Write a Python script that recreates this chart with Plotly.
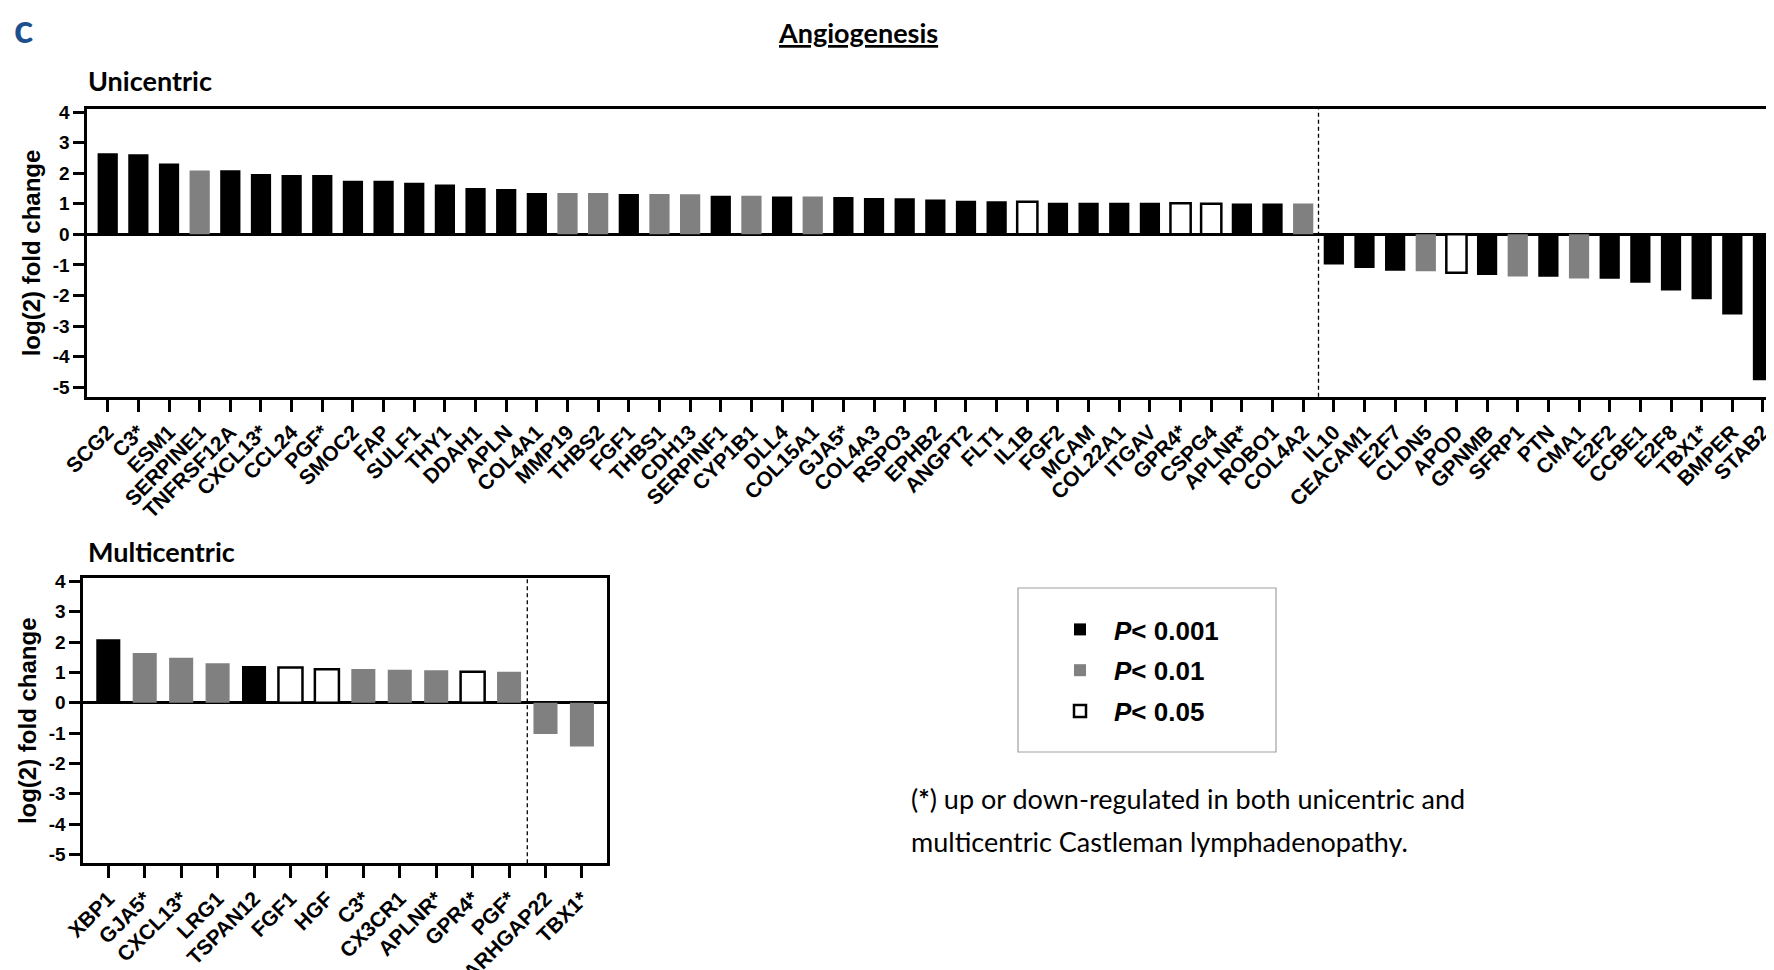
import plotly.graph_objects as go

# page offset of the plot div (browser body margin)
OFF = 8
REF_W, REF_H = 1774, 970
FW, FH = REF_W - OFF, REF_H - OFF

# ---------------- data ----------------
uni_genes = ["SCG2", "C3*", "ESM1", "SERPINE1", "TNFRSF12A", "CXCL13*", "CCL24", "PGF*", "SMOC2", "FAP",
             "SULF1", "THY1", "DDAH1", "APLN", "COL4A1", "MMP19", "THBS2", "FGF1", "THBS1", "CDH13",
             "SERPINF1", "CYP1B1", "DLL4", "COL15A1", "GJA5*", "COL4A3", "RSPO3", "EPHB2", "ANGPT2", "FLT1",
             "IL1B", "FGF2", "MCAM", "COL22A1", "ITGAV", "GPR4*", "CSPG4", "APLNR*", "ROBO1", "COL4A2",
             "IL10", "CEACAM1", "E2F7", "CLDN5", "APOD", "GPNMB", "SFRP1", "PTN", "CMA1", "E2F2",
             "CCBE1", "E2F8", "TBX1*", "BMPER", "STAB2"]
uni_values = [2.65, 2.62, 2.32, 2.09, 2.10, 1.97, 1.94, 1.94, 1.75, 1.75,
              1.69, 1.63, 1.52, 1.48, 1.35, 1.35, 1.35, 1.32, 1.32, 1.31,
              1.26, 1.26, 1.24, 1.24, 1.22, 1.19, 1.18, 1.14, 1.10, 1.08,
              1.07, 1.03, 1.03, 1.03, 1.03, 1.02, 1.00, 1.01, 1.01, 1.01,
              -0.99, -1.10, -1.19, -1.21, -1.26, -1.33, -1.38, -1.39, -1.44, -1.45,
              -1.58, -1.84, -2.12, -2.62, -4.77]
# significance: 1 -> P<0.001, 2 -> P<0.01, 3 -> P<0.05
uni_sig = [1, 1, 1, 2, 1, 1, 1, 1, 1, 1,
           1, 1, 1, 1, 1, 2, 2, 1, 2, 2,
           1, 2, 1, 2, 1, 1, 1, 1, 1, 1,
           3, 1, 1, 1, 1, 3, 3, 1, 1, 2,
           1, 1, 1, 2, 3, 1, 2, 1, 2, 1,
           1, 1, 1, 1, 1]

multi_genes = ["XBP1", "GJA5*", "CXCL13*", "LRG1", "TSPAN12", "FGF1", "HGF", "C3*", "CX3CR1", "APLNR*",
               "GPR4*", "PGF*", "ARHGAP22", "TBX1*"]
multi_values = [2.09, 1.64, 1.48, 1.30, 1.21, 1.16, 1.10, 1.11, 1.09, 1.07,
                1.02, 1.02, -1.03, -1.44]
multi_sig = [1, 2, 2, 2, 1, 3, 3, 2, 2, 2,
             3, 2, 2, 2]

sig_labels = {1: "<i>P</i>< 0.001", 2: "<i>P</i>< 0.01", 3: "<i>P</i>< 0.05"}
y_ticks = [-5, -4, -3, -2, -1, 0, 1, 2, 3, 4]
y_ticktext = [str(v) for v in y_ticks]

# ---------------- styles ----------------
fills = {1: "#000000", 2: "#808080", 3: "#ffffff"}
lines = {1: 0, 2: 0, 3: 2.5}
BAR_W = 0.66
AX_FONT = "Liberation Sans, Arial, sans-serif"
TXT_FONT = "Lato, Carlito, sans-serif"


def px(x):
    return (x - OFF) / FW


def py(y):
    return 1 - (y - OFF) / FH


fig = go.Figure()


def add_panel(genes, values, sig, xa, ya, show_legend):
    for s in (1, 2, 3):
        xs = [g for g, k in zip(genes, sig) if k == s]
        ys = [v for v, k in zip(values, sig) if k == s]
        fig.add_trace(go.Bar(
            x=xs, y=ys, xaxis=xa, yaxis=ya, width=BAR_W,
            marker=dict(color=fills[s], line=dict(color="#000000", width=lines[s])),
            name=sig_labels[s], legendgroup=f"g{s}", showlegend=show_legend,
        ))


add_panel(uni_genes, uni_values, uni_sig, "x", "y", True)
add_panel(multi_genes, multi_values, multi_sig, "x2", "y2", False)

# divider between up- and down-regulated genes (derived from data)
uni_split = sum(1 for v in uni_values if v > 0) - 0.5
multi_split = sum(1 for v in multi_values if v > 0) - 0.5
for xref, yref, xs in (("x", "y domain", uni_split), ("x2", "y2 domain", multi_split)):
    fig.add_shape(type="line", xref=xref, yref=yref, x0=xs, x1=xs, y0=0, y1=1,
                  line=dict(color="#000000", width=1.3, dash="4px,3px"))

xcommon = dict(type="category", showline=True, linecolor="#000000", linewidth=2.8,
               mirror=True, ticks="outside", ticklen=12, tickwidth=2.5, tickcolor="#000000",
               tickangle=-45, showgrid=False, zeroline=False, automargin=False,
               tickfont=dict(family=AX_FONT, size=21, color="#000000", weight="bold"))
ycommon = dict(showline=True, linecolor="#000000", linewidth=2.8,
               ticks="outside", ticklen=11, tickwidth=2.5, tickcolor="#000000",
               tickvals=y_ticks, ticktext=y_ticktext, showgrid=False,
               zeroline=True, zerolinecolor="#000000", zerolinewidth=2.6, automargin=False,
               tickfont=dict(family=AX_FONT, size=19, color="#000000", weight="bold"),
               title=dict(text="log(2) fold change", standoff=6,
                          font=dict(family=AX_FONT, size=24, color="#000000", weight="bold")))

fig.update_layout(
    width=FW, height=FH,
    margin=dict(l=0, r=0, t=0, b=0),
    paper_bgcolor="#ffffff", plot_bgcolor="#ffffff",
    barmode="overlay",
    xaxis=dict(**xcommon, domain=[px(87.3), 1.0], anchor="y",
               categoryorder="array", categoryarray=uni_genes, range=[-0.666, 54.36]),
    yaxis=dict(**ycommon, domain=[py(396.7), py(109.3)], anchor="x",
               range=[-5.31, 4.09], mirror=False),
    xaxis2=dict(**xcommon, domain=[px(83.3), px(606.7)], anchor="y2",
                categoryorder="array", categoryarray=multi_genes, range=[-0.686, 13.68]),
    yaxis2=dict(**ycommon, domain=[py(863.3), py(578.3)], anchor="x2",
                range=[-5.29, 4.10], mirror=True),
    legend=dict(x=px(1046), y=py(606), xanchor="left", yanchor="top",
                bgcolor="rgba(0,0,0,0)", borderwidth=0, tracegroupgap=4, itemwidth=58,
                font=dict(family=AX_FONT, size=26, color="#000000", weight="bold")),
    showlegend=True,
)

# legend frame
fig.add_shape(type="rect", xref="paper", yref="paper",
              x0=px(1018), x1=px(1276), y0=py(752), y1=py(588),
              line=dict(color="#a0a0a0", width=1.2), fillcolor="rgba(0,0,0,0)")

ann = [
    dict(text="<b>c</b>", x=px(12), y=py(8), xanchor="left", yanchor="top", yshift=6,
         font=dict(family=TXT_FONT, size=40, color="#1c4f8c")),
    dict(text="<b><u>Angiogenesis</u></b>", x=px(858), y=py(33), xanchor="center", yanchor="middle",
         font=dict(family=TXT_FONT, size=27, color="#000000")),
    dict(text="<b>Unicentric</b>", x=px(86), y=py(81), xanchor="left", yanchor="middle",
         font=dict(family=TXT_FONT, size=27, color="#000000")),
    dict(text="<b>Multicentric</b>", x=px(86), y=py(551), xanchor="left", yanchor="middle",
         font=dict(family=TXT_FONT, size=27, color="#000000")),
    dict(text="(<b>*</b>) up or down-regulated in both unicentric and", x=px(909), y=py(798),
         xanchor="left", yanchor="middle", font=dict(family=TXT_FONT, size=27, color="#000000")),
    dict(text="multicentric Castleman lymphadenopathy.", x=px(909), y=py(841),
         xanchor="left", yanchor="middle", font=dict(family=TXT_FONT, size=27, color="#000000")),
]
for a in ann:
    fig.add_annotation(xref="paper", yref="paper", showarrow=False, **a)

fig.write_html("out.html")
